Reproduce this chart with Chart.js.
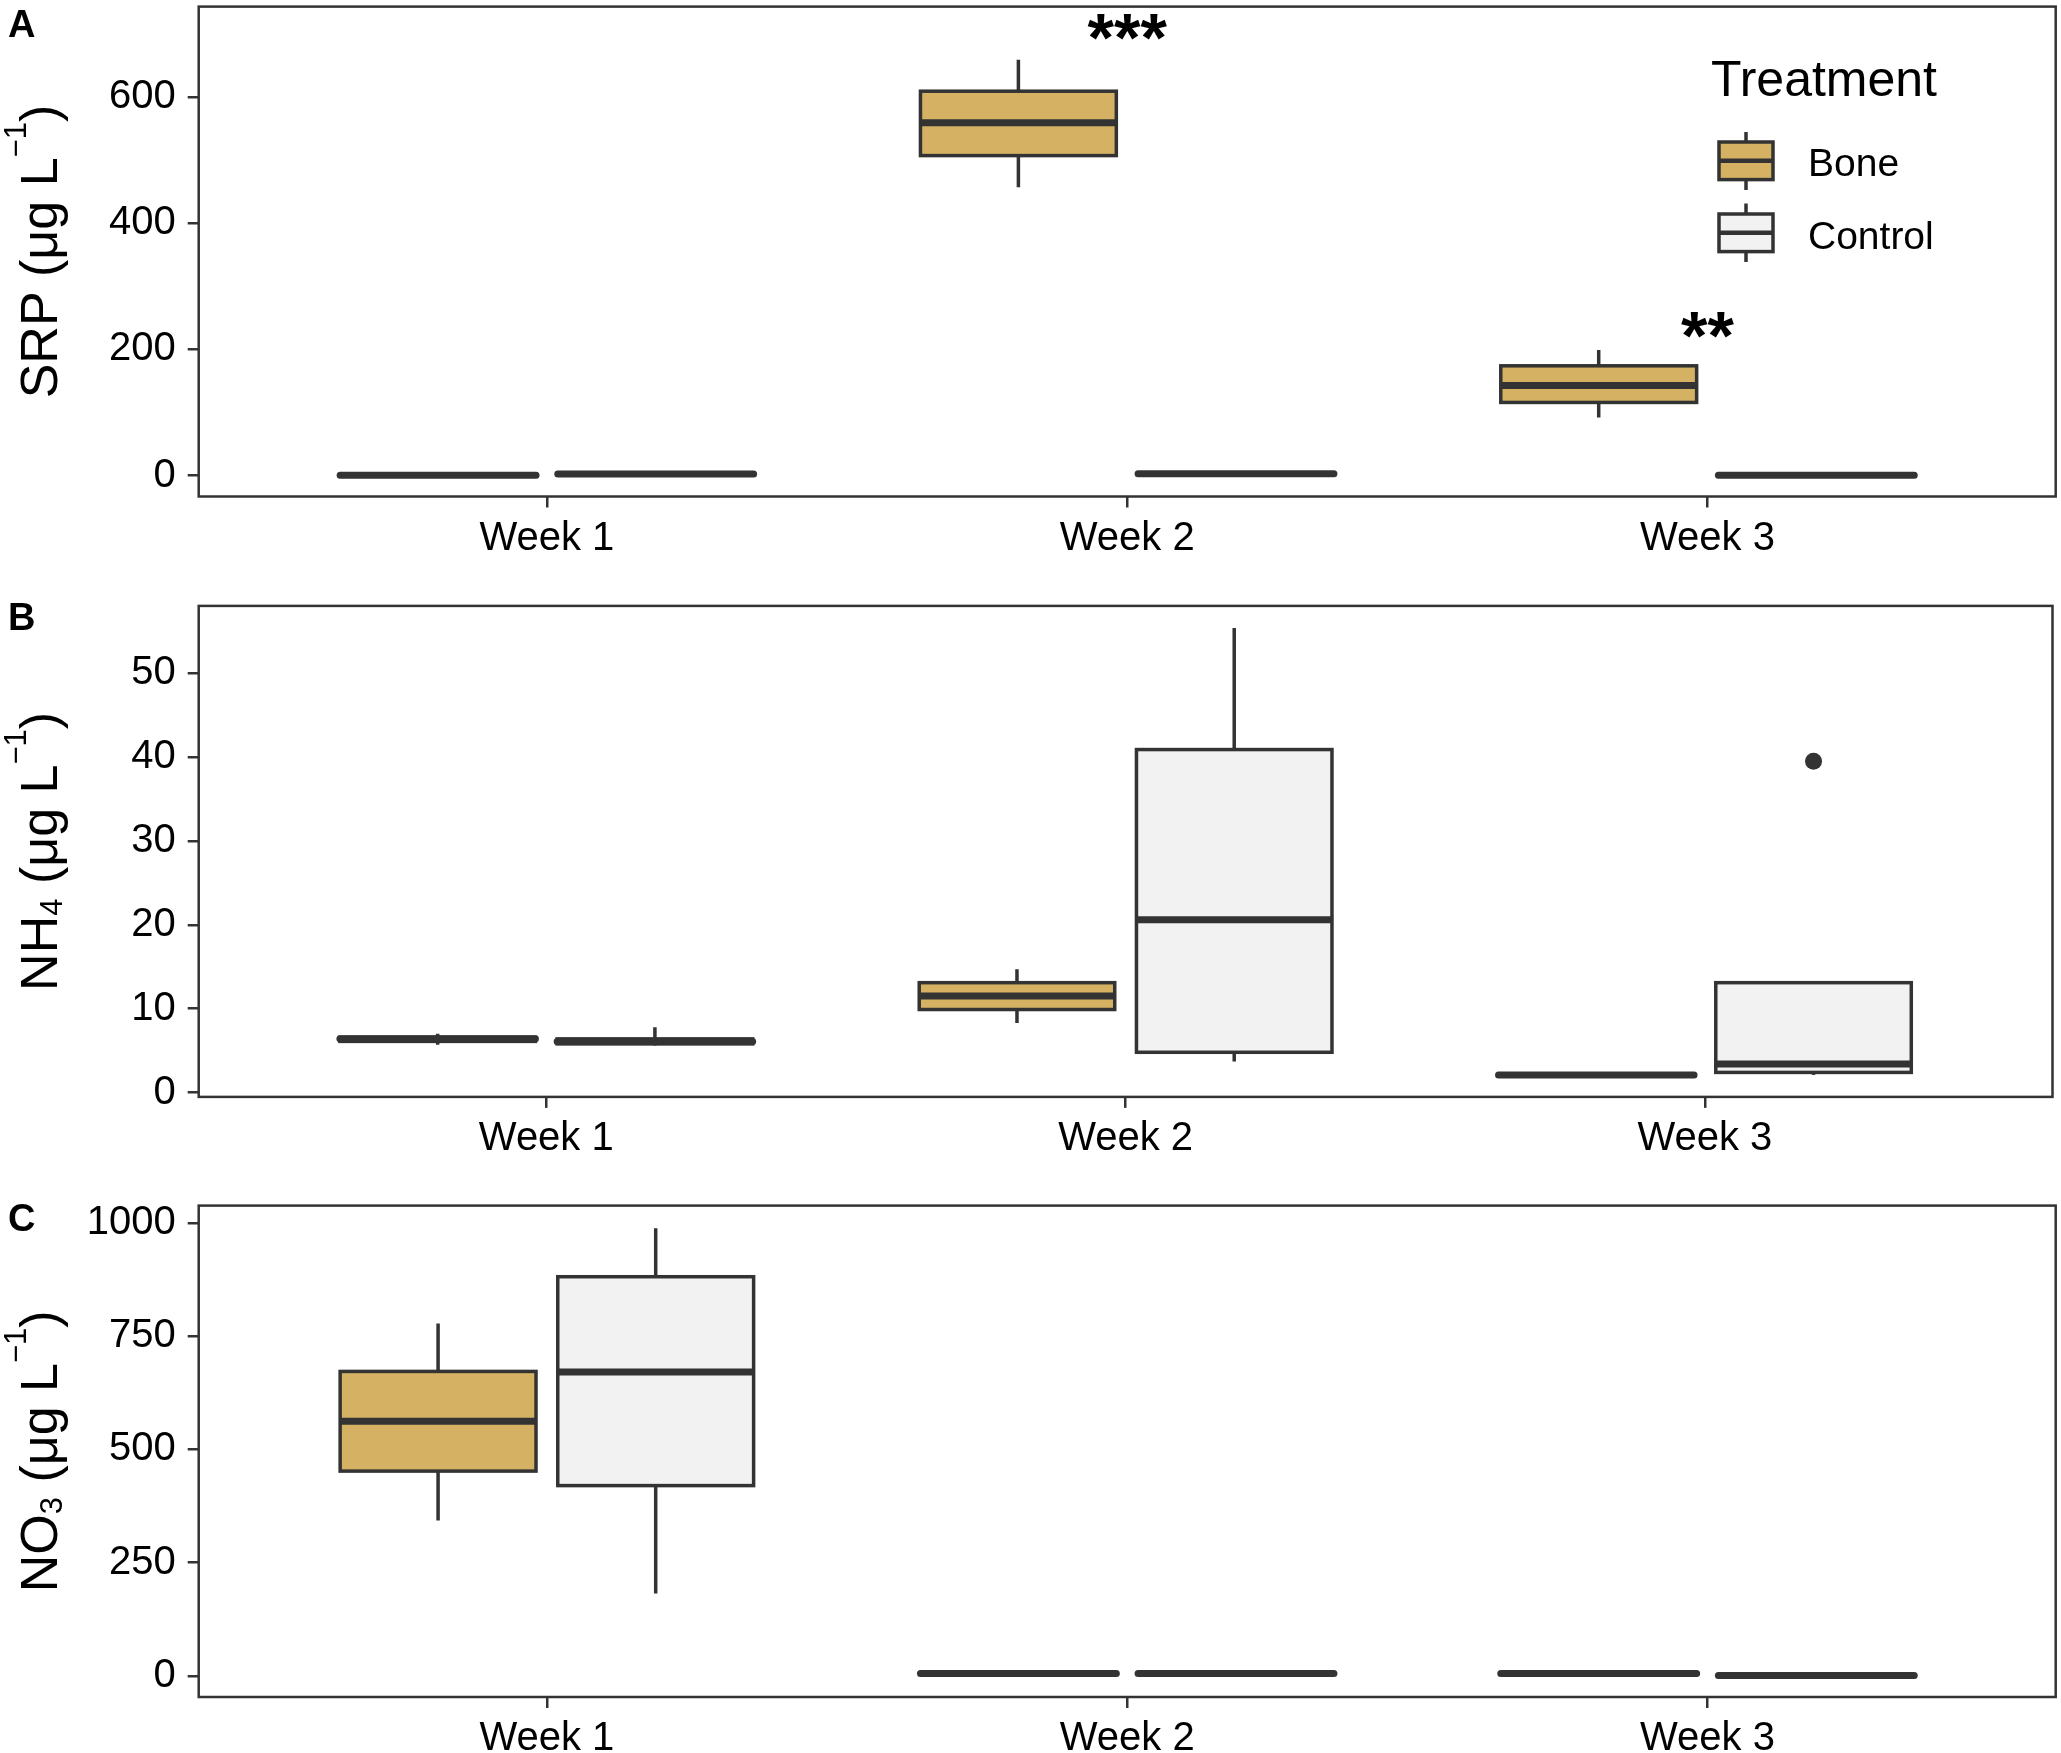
<!DOCTYPE html>
<html>
<head>
<meta charset="utf-8">
<script src="https://cdn.jsdelivr.net/npm/chart.js@4.4.0/dist/chart.umd.min.js"></script>
<style>
html, body { margin: 0; padding: 0; background: #ffffff; }
#wrap { position: relative; width: 2061px; height: 1753px; background: #ffffff; }
.panel { position: absolute; left: 0; width: 2061px; }
canvas { display: block; }
</style>
</head>
<body>
<div id="wrap">
  <div class="panel" style="top:0px;height:580px"><canvas id="cA" width="2061" height="580"></canvas></div>
  <div class="panel" style="top:580px;height:600px"><canvas id="cB" width="2061" height="600"></canvas></div>
  <div class="panel" style="top:1180px;height:573px"><canvas id="cC" width="2061" height="573"></canvas></div>
</div>
<script>
// ---------------- DATA ----------------
const weeks = ['Week 1', 'Week 2', 'Week 3'];
const weekPos = [1, 2, 3];
const treatments = ['Bone', 'Control'];

// five-number summaries per week: [min, q1, median, q3, max]
const srpBone    = [[0, 0.3, 0.6, 1, 1.5], [457, 507, 559, 609, 659], [92, 116, 143, 174, 199]];
const srpControl = [[1, 1.5, 2.5, 3, 4], [2, 2.5, 3, 3.5, 4.5], [0, 0.2, 0.5, 0.8, 1]];

const nh4Bone    = [[5.7, 6.1, 6.4, 6.6, 7.0], [8.3, 9.9, 11.5, 13.1, 14.7], [1.9, 2.0, 2.1, 2.2, 2.3]];
const nh4Control = [[5.6, 5.8, 6.1, 6.4, 7.8], [3.7, 4.8, 20.6, 40.9, 55.4], [2.1, 2.4, 3.4, 13.1, 13.1]];

const no3Bone    = [[343, 452, 562, 672, 778], [3, 4, 5, 6, 7], [3, 4, 5, 6, 7]];
const no3Control = [[182, 420, 671, 881, 988], [3, 4, 5, 6, 7], [0, 0.5, 1, 1.5, 2]];

// outliers
const nh4OutlierWeek  = [3];
const nh4OutlierTreat = ['Control'];
const nh4OutlierValue = [39.5];

// significance labels (panel A)
const sigWeek   = [2, 3];
const sigLabel  = ['***', '**'];
const sigValue  = [711, 239];

// tick labels
const srpTicks = [0, 200, 400, 600];
const nh4Ticks = [0, 10, 20, 30, 40, 50];
const no3Ticks = [0, 250, 500, 750, 1000];

// axis titles (parts: [text, kind])
const srpTitle = [['SRP (μg L', 'n'], ['−1', 'sup'], [')', 'n']];
const nh4Title = [['NH', 'n'], ['4', 'sub'], [' (μg L', 'n'], ['−1', 'sup'], [')', 'n']];
const no3Title = [['NO', 'n'], ['3', 'sub'], [' (μg L', 'n'], ['−1', 'sup'], [')', 'n']];

const legendTitle = 'Treatment';

// ---------------- STYLE ----------------
const FONT = '"Liberation Sans", Arial, Helvetica, sans-serif';
const COL_BONE = '#D5B263';
const COL_CTRL = '#F2F2F2';
const COL_LINE = '#333333';
const DODGE = 0.1875;
const HALFW = 0.16875;

function treatOffset(t) { return t === 'Bone' ? -DODGE : DODGE; }

function boxDataset(label, stats, color) {
  return {
    label: label,
    type: 'scatter',
    data: stats.map((s, i) => ({ x: weekPos[i] + treatOffset(label), y: s[2], stats: s })),
    pointRadius: 0,
    boxColor: color,
    isBox: true
  };
}

const boxPlugin = {
  id: 'boxes',
  beforeDatasetsDraw(chart) {
    const ctx = chart.ctx;
    const xs = chart.scales.x, ys = chart.scales.y;
    chart.data.datasets.forEach(ds => {
      if (!ds.isBox) return;
      ds.data.forEach(d => {
        const [mn, q1, md, q3, mx] = d.stats;
        const xc = xs.getPixelForValue(d.x);
        const xl = xs.getPixelForValue(d.x - HALFW);
        const xr = xs.getPixelForValue(d.x + HALFW);
        const yMn = ys.getPixelForValue(mn), yQ1 = ys.getPixelForValue(q1);
        const yMd = ys.getPixelForValue(md), yQ3 = ys.getPixelForValue(q3);
        const yMx = ys.getPixelForValue(mx);
        ctx.save();
        ctx.strokeStyle = COL_LINE;
        ctx.lineWidth = 3.5;
        ctx.lineCap = 'butt';
        ctx.beginPath();
        ctx.moveTo(xc, yQ3); ctx.lineTo(xc, yMx);
        ctx.moveTo(xc, yQ1); ctx.lineTo(xc, yMn);
        ctx.stroke();
        ctx.fillStyle = ds.boxColor;
        ctx.fillRect(xl, yQ3, xr - xl, yQ1 - yQ3);
        ctx.lineJoin = 'miter';
        ctx.strokeRect(xl, yQ3, xr - xl, yQ1 - yQ3);
        ctx.lineWidth = 7;
        ctx.lineCap = (Math.abs(yQ1 - yQ3) < 6) ? 'round' : 'butt';
        ctx.beginPath();
        ctx.moveTo(xl, yMd); ctx.lineTo(xr, yMd);
        ctx.stroke();
        ctx.restore();
      });
    });
  }
};

function drawYTitle(ctx, parts, cy) {
  const big = 52, small = 31;
  ctx.save();
  let total = 0;
  const widths = parts.map(p => {
    ctx.font = (p[1] === 'n' ? big : small) + 'px ' + FONT;
    const w = ctx.measureText(p[0]).width;
    total += w;
    return w;
  });
  ctx.translate(57, cy);
  ctx.rotate(-Math.PI / 2);
  ctx.fillStyle = '#000';
  ctx.textBaseline = 'alphabetic';
  ctx.textAlign = 'left';
  let x = -total / 2;
  parts.forEach((p, i) => {
    ctx.font = (p[1] === 'n' ? big : small) + 'px ' + FONT;
    const dy = p[1] === 'sup' ? -31 : (p[1] === 'sub' ? 5 : 0);
    ctx.fillText(p[0], x, dy);
    x += widths[i];
  });
  ctx.restore();
}

function decorPlugin(opts) {
  return {
    id: 'decor',
    afterDraw(chart) {
      const ctx = chart.ctx;
      const ca = chart.chartArea;
      ctx.save();
      // panel border
      ctx.strokeStyle = COL_LINE;
      ctx.lineWidth = 2.5;
      ctx.strokeRect(ca.left, ca.top, ca.right - ca.left, ca.bottom - ca.top);
      // panel letter
      ctx.fillStyle = '#000';
      ctx.font = 'bold 38px ' + FONT;
      ctx.textBaseline = 'alphabetic';
      ctx.textAlign = 'left';
      ctx.fillText(opts.letter, 8, opts.letterBase);
      ctx.restore();
      // y title
      drawYTitle(ctx, opts.title, (ca.top + ca.bottom) / 2);
      // significance stars
      if (opts.sig) {
        const xs = chart.scales.x, ys = chart.scales.y;
        ctx.save();
        ctx.fillStyle = '#000';
        ctx.font = 'bold 68px ' + FONT;
        ctx.textAlign = 'center';
        ctx.textBaseline = 'alphabetic';
        sigLabel.forEach((lab, i) => {
          const m = ctx.measureText(lab);
          const cx = xs.getPixelForValue(sigWeek[i]);
          const cy = ys.getPixelForValue(sigValue[i]);
          const base = cy + (m.actualBoundingBoxAscent - m.actualBoundingBoxDescent) / 2;
          ctx.fillText(lab, cx, base);
        });
        ctx.restore();
      }
      // legend
      if (opts.legend) {
        ctx.save();
        ctx.fillStyle = '#000';
        ctx.font = '50px ' + FONT;
        ctx.textBaseline = 'alphabetic';
        ctx.textAlign = 'left';
        ctx.fillText(legendTitle, 1711, 96);
        const keys = [
          { label: treatments[0], color: COL_BONE, top: 142, bot: 179.6, med: 160.8, wt: 132, wb: 190, ty: 165 },
          { label: treatments[1], color: COL_CTRL, top: 214, bot: 251.6, med: 232.8, wt: 203.5, wb: 262, ty: 238 }
        ];
        keys.forEach(k => {
          ctx.strokeStyle = COL_LINE;
          ctx.lineWidth = 3.5;
          ctx.beginPath();
          ctx.moveTo(1746, k.wt); ctx.lineTo(1746, k.wb);
          ctx.stroke();
          ctx.fillStyle = k.color;
          ctx.fillRect(1719, k.top, 54, k.bot - k.top);
          ctx.strokeRect(1719, k.top, 54, k.bot - k.top);
          ctx.lineWidth = 4.5;
          ctx.beginPath();
          ctx.moveTo(1719, k.med); ctx.lineTo(1773, k.med);
          ctx.stroke();
          ctx.fillStyle = '#000';
          ctx.font = '39px ' + FONT;
          ctx.textBaseline = 'middle';
          ctx.fillText(k.label, 1808, k.ty);
        });
        ctx.restore();
      }
    }
  };
}

function makePanel(id, cfg) {
  const datasets = [
    boxDataset('Bone', cfg.bone, COL_BONE),
    boxDataset('Control', cfg.control, COL_CTRL)
  ];
  if (cfg.outliers) {
    datasets.push({
      label: 'outliers',
      type: 'scatter',
      data: cfg.outliers,
      pointRadius: 8.5,
      pointBackgroundColor: COL_LINE,
      pointBorderColor: COL_LINE,
      pointBorderWidth: 0
    });
  }
  const tickFont = { family: FONT, size: 40 };
  return new Chart(document.getElementById(id), {
    type: 'scatter',
    data: { datasets: datasets },
    options: {
      responsive: false,
      animation: false,
      events: [],
      layout: { padding: { top: cfg.padTop, right: 5.3, bottom: 0, left: 0 } },
      plugins: { legend: { display: false }, tooltip: { enabled: false } },
      scales: {
        x: {
          type: 'linear',
          min: 0.4, max: 3.6,
          afterBuildTicks: s => { s.ticks = weekPos.map(v => ({ value: v })); },
          afterFit: s => { s.height = cfg.xH; s.paddingLeft = 0; s.paddingRight = 0; },
          ticks: {
            callback: v => weeks[weekPos.indexOf(v)],
            font: tickFont, color: '#000', padding: 7,
            maxRotation: 0, autoSkip: false
          },
          grid: { drawOnChartArea: false, drawTicks: true, tickLength: 11, tickColor: COL_LINE, tickWidth: 2.5, color: COL_LINE, lineWidth: 2.5 },
          border: { display: false }
        },
        y: {
          type: 'linear',
          min: cfg.ymin, max: cfg.ymax,
          afterBuildTicks: s => { s.ticks = cfg.ticks.map(v => ({ value: v })); },
          afterFit: s => { s.width = 198.7; s.paddingTop = 0; s.paddingBottom = 0; },
          ticks: {
            callback: v => String(v),
            font: tickFont, color: '#000', padding: 12, autoSkip: false
          },
          grid: { drawOnChartArea: false, drawTicks: true, tickLength: 11, tickColor: COL_LINE, tickWidth: 2.5, color: COL_LINE, lineWidth: 2.5 },
          border: { display: false }
        }
      }
    },
    plugins: [boxPlugin, decorPlugin(cfg.decor)]
  });
}

makePanel('cA', {
  bone: srpBone, control: srpControl,
  ymin: -33, ymax: 743, ticks: srpTicks,
  padTop: 6.6, xH: 83.5,
  decor: { letter: 'A', letterBase: 37, title: srpTitle, sig: true, legend: true }
});

makePanel('cB', {
  bone: nh4Bone, control: nh4Control,
  ymin: -0.52, ymax: 58.03, ticks: nh4Ticks,
  padTop: 25.9, xH: 83.1,
  outliers: nh4OutlierValue.map((v, i) => ({ x: nh4OutlierWeek[i] + treatOffset(nh4OutlierTreat[i]), y: v })),
  decor: { letter: 'B', letterBase: 50, title: nh4Title }
});

makePanel('cC', {
  bone: no3Bone, control: no3Control,
  ymin: -46.6, ymax: 1038, ticks: no3Ticks,
  padTop: 25.6, xH: 56,
  decor: { letter: 'C', letterBase: 51, title: no3Title }
});
</script>
</body>
</html>
